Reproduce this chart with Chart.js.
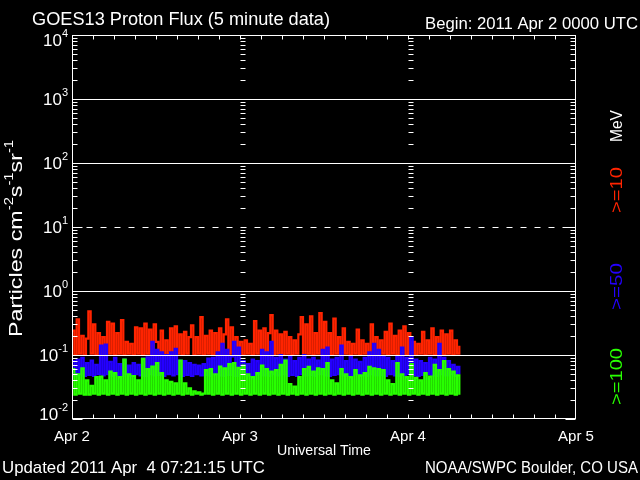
<!DOCTYPE html>
<html><head><meta charset="utf-8">
<script src="https://cdn.jsdelivr.net/npm/chart.js@4/dist/chart.umd.min.js"></script>
<style>html,body{margin:0;padding:0;background:#000;overflow:hidden}#wrap{width:640px;height:480px}</style>
</head><body><div id="wrap"><canvas id="c" width="640" height="480"></canvas></div>
<script>
// ---- data (GOES13 integral proton flux, 20-minute samples from 2011 Apr 2 00:00 UTC) ----
const SAMPLE_HOURS = 1 / 3;
const dayLabels = ['Apr 2', 'Apr 3', 'Apr 4', 'Apr 5'];
const dayHours = [0, 24, 48, 72];
const decadeExponents = [-2, -1, 0, 1, 2, 3, 4];
const solidGridExponents = [-1, 0, 2, 3];
const dashedGridExponents = [1];
const seriesLabels = ['>=10', '>=50', '>=100'];
const seriesColors = ['rgb(255,36,0)', 'rgb(36,0,255)', 'rgb(40,255,0)'];

const flux10 = [
0.24,0.10,0.36, 0.105,0.20,0.10, 0.18,0.48,0.105, 0.30,0.10,0.22, 0.105,0.19,0.10, 0.33,0.105,0.31, 0.10,0.22,0.105, 0.35,0.10,0.16, 0.105,0.15,0.10, 0.27,0.105,0.26,
0.10,0.31,0.105, 0.25,0.10,0.30, 0.16,0.105,0.24, 0.10,0.17,0.105, 0.26,0.10,0.28, 0.105,0.21,0.10, 0.23,0.105,0.19, 0.29,0.10,0.19, 0.105,0.39,0.10, 0.20,0.105,0.24,
0.10,0.22,0.105, 0.26,0.10,0.21, 0.36,0.105,0.27, 0.10,0.19,0.105, 0.16,0.10,0.17, 0.105,0.15,0.10, 0.34,0.105,0.24, 0.10,0.26,0.105, 0.22,0.42,0.10, 0.24,0.105,0.21,
0.10,0.23,0.105, 0.19,0.10,0.17, 0.105,0.21,0.39, 0.10,0.30,0.105, 0.40,0.10,0.22, 0.105,0.45,0.10, 0.33,0.105,0.22, 0.10,0.37,0.105, 0.19,0.10,0.26, 0.105,0.16,0.10,
0.15,0.105,0.25, 0.10,0.17,0.105, 0.15,0.10,0.30, 0.105,0.19,0.10, 0.17,0.105,0.23, 0.10,0.31,0.105, 0.20,0.10,0.24, 0.105,0.28,0.10, 0.22,0.105,0.16, 0.10,0.15,0.105,
0.23,0.10,0.17, 0.105,0.26,0.10, 0.19,0.105,0.24, 0.10,0.21,0.105, 0.24,0.10,0.17, 0.105,0.14
];
const flux50 = [
0.080,0.048,0.085, 0.050,0.090,0.047, 0.075,0.049,0.082, 0.047,0.070,0.050, 0.140,0.048,0.145, 0.050,0.078,0.047, 0.090,0.049,0.072, 0.047,0.085,0.050, 0.068,0.047,0.075, 0.050,0.070,0.048,
0.088,0.047,0.092, 0.050,0.160,0.048, 0.120,0.049,0.110, 0.047,0.100,0.050, 0.110,0.048,0.125, 0.050,0.082,0.047, 0.080,0.049,0.075, 0.047,0.070,0.050, 0.068,0.048,0.072, 0.049,0.088,0.047,
0.090,0.050,0.110, 0.048,0.150,0.047, 0.120,0.049,0.095, 0.160,0.047,0.130, 0.050,0.080,0.048, 0.072,0.047,0.085, 0.049,0.080,0.050, 0.120,0.048,0.110, 0.047,0.160,0.050, 0.090,0.048,0.100,
0.050,0.085,0.047, 0.095,0.049,0.080, 0.047,0.090,0.050, 0.100,0.048,0.085, 0.049,0.090,0.047, 0.082,0.050,0.120, 0.048,0.130,0.047, 0.085,0.049,0.090, 0.050,0.140,0.048, 0.080,0.047,0.095,
0.049,0.085,0.050, 0.078,0.048,0.090, 0.047,0.110,0.050, 0.150,0.048,0.120, 0.049,0.095,0.047, 0.090,0.050,0.080, 0.048,0.095,0.047, 0.130,0.049,0.090, 0.050,0.190,0.048, 0.085,0.047,0.080,
0.049,0.075,0.050, 0.090,0.048,0.085, 0.047,0.150,0.050, 0.090,0.048,0.080, 0.050,0.070,0.047, 0.065,0.050
];
const flux100 = [
0.060,0.024,0.050, 0.025,0.062,0.024, 0.040,0.024,0.033, 0.025,0.045,0.024, 0.046,0.025,0.040, 0.024,0.055,0.025, 0.052,0.024,0.045, 0.025,0.085,0.024, 0.050,0.025,0.047, 0.024,0.040,0.025,
0.087,0.024,0.060, 0.025,0.066,0.024, 0.075,0.025,0.052, 0.024,0.040,0.025, 0.038,0.024,0.036, 0.025,0.082,0.024, 0.036,0.025,0.030, 0.024,0.027,0.025, 0.026,0.024,0.025, 0.058,0.025,0.060,
0.024,0.050,0.025, 0.066,0.024,0.062, 0.025,0.072,0.024, 0.075,0.025,0.063, 0.024,0.068,0.025, 0.050,0.024,0.045, 0.025,0.052,0.024, 0.068,0.025,0.060, 0.024,0.055,0.025, 0.058,0.024,0.070,
0.025,0.082,0.024, 0.035,0.025,0.032, 0.024,0.045,0.025, 0.060,0.024,0.065, 0.025,0.055,0.024, 0.062,0.025,0.060, 0.024,0.075,0.025, 0.040,0.024,0.036, 0.025,0.060,0.024, 0.050,0.025,0.045,
0.024,0.058,0.025, 0.048,0.024,0.052, 0.025,0.065,0.024, 0.062,0.025,0.060, 0.024,0.058,0.025, 0.040,0.024,0.035, 0.025,0.075,0.024, 0.050,0.025,0.045, 0.024,0.072,0.025, 0.044,0.024,0.040,
0.025,0.052,0.024, 0.046,0.025,0.070, 0.024,0.058,0.025, 0.080,0.024,0.060, 0.025,0.055,0.024, 0.048,0.024
];

const FONT = '"Liberation Sans", "DejaVu Sans", sans-serif';
const toPoints = arr => arr.map((v, i) => ({ x: i * SAMPLE_HOURS, y: v }));

function txt(ctx, s, x, y, o) {
  ctx.save();
  ctx.font = (o.size || 15) + 'px ' + FONT;
  ctx.fillStyle = o.color || '#fff';
  ctx.textBaseline = o.baseline || 'alphabetic';
  ctx.translate(x, y);
  if (o.rot) ctx.rotate(o.rot);
  const w = ctx.measureText(s).width;
  const sx = o.width ? o.width / w : 1;
  ctx.scale(sx, 1);
  let x0 = 0;
  if (o.align === 'center') x0 = -w / 2; else if (o.align === 'right') x0 = -w;
  ctx.textAlign = 'left';
  ctx.fillText(s, x0, 0);
  ctx.restore();
}

const overlay = {
  id: 'overlay',
  beforeDraw(chart) {
    const c = chart.ctx; c.save(); c.fillStyle = '#000'; c.fillRect(0, 0, chart.width, chart.height); c.restore();
  },
  afterDatasetsDraw(chart) {
    const ctx = chart.ctx, xs = chart.scales.x, ys = chart.scales.y, a = chart.chartArea;
    const L = Math.round(a.left) + 0.5, R = Math.round(a.right) - 0.5, T = Math.round(a.top) + 0.5, B = Math.round(a.bottom) - 0.5;
    const line = (x1, y1, x2, y2) => { ctx.beginPath(); ctx.moveTo(x1, y1); ctx.lineTo(x2, y2); ctx.stroke(); };
    const py = v => Math.round(ys.getPixelForValue(v)) + 0.5;
    ctx.save();
    ctx.strokeStyle = '#fff'; ctx.lineWidth = 1;
    solidGridExponents.forEach(e => { const y = py(Math.pow(10, e)); line(L, y, R, y); });
    ctx.setLineDash([6, 8]);
    dashedGridExponents.forEach(e => { const y = py(Math.pow(10, e)); line(L, y, R, y); });
    ctx.setLineDash([]);
    ctx.strokeRect(L, T, R - L, B - T);
    const inner = dayHours.slice(1, -1).map(h => Math.round(xs.getPixelForValue(h)) + 0.5);
    for (let e = -2; e < 4; e++) {
      for (let m = 2; m <= 9; m++) {
        const y = py(m * Math.pow(10, e));
        line(L, y, L + 5, y); line(R - 5, y, R, y);
        inner.forEach(x => line(x, y, x + 5, y));
      }
    }
    decadeExponents.forEach(e => { const y = py(Math.pow(10, e)); line(L, y, L + 10, y); line(R - 10, y, R, y); });
    for (let h = 3; h < 72; h += 3) {
      const x = Math.round(xs.getPixelForValue(h)) + 0.5;
      line(x, T, x, T + 4); line(x, B - 4, x, B);
    }
    ctx.restore();
  },
  afterDraw(chart) {
    const ctx = chart.ctx, xs = chart.scales.x, ys = chart.scales.y;
    txt(ctx, 'GOES13 Proton Flux (5 minute data)', 32, 25, { size: 19, width: 298 });
    txt(ctx, 'Begin: 2011 Apr 2 0000 UTC', 425, 29, { size: 16, width: 213 });
    txt(ctx, 'Updated 2011 Apr  4 07:21:15 UTC', 2, 473, { size: 17, width: 263 });
    txt(ctx, 'NOAA/SWPC Boulder, CO USA', 425, 473, { size: 17, width: 213 });
    dayLabels.forEach((s, i) => txt(ctx, s, xs.getPixelForValue(dayHours[i]), 441, { size: 15, align: 'center', width: 36 }));
    txt(ctx, 'Universal Time', (chart.chartArea.left + chart.chartArea.right) / 2, 455, { size: 15, align: 'center', width: 94 });
    ctx.save();
    decadeExponents.forEach(e => {
      let y = ys.getPixelForValue(Math.pow(10, e));
      if (e === 4) y += 5; if (e === -2) y -= 5;
      ctx.font = '17px ' + FONT; const w10 = ctx.measureText('10').width;
      ctx.font = '11px ' + FONT; const ex = String(e); const we = ctx.measureText(ex).width;
      const x0 = 68 - w10 - we;
      ctx.fillStyle = '#fff'; ctx.textBaseline = 'middle'; ctx.textAlign = 'left';
      ctx.font = '17px ' + FONT; ctx.fillText('10', x0, y + 1);
      ctx.font = '11px ' + FONT; ctx.fillText(ex, x0 + w10, y - 6);
    });
    ctx.restore();
    const segs = [['Particles cm', 0], ['-2', 1], ['s', 0], ['-1', 1], ['sr', 0], ['-1', 1]];
    ctx.save();
    ctx.fillStyle = '#fff'; ctx.textBaseline = 'alphabetic'; ctx.textAlign = 'left';
    let W = 0; const ws = segs.map(([t, sup]) => { ctx.font = (sup ? 12 : 19) + 'px ' + FONT; const w = ctx.measureText(t).width; W += w; return w; });
    ctx.translate(22, 238.5); ctx.rotate(-Math.PI / 2); ctx.scale(197 / W, 1);
    let cx = -W / 2;
    segs.forEach(([t, sup], i) => { ctx.font = (sup ? 12 : 19) + 'px ' + FONT; ctx.fillText(t, cx, sup ? -9 : 0); cx += ws[i]; });
    ctx.restore();
    const rot = -Math.PI / 2;
    txt(ctx, 'MeV', 622, 142, { size: 17, rot, width: 32 });
    txt(ctx, seriesLabels[0], 622, 213, { size: 17, rot, width: 46, color: seriesColors[0] });
    txt(ctx, seriesLabels[1], 622, 310, { size: 17, rot, width: 47, color: seriesColors[1] });
    txt(ctx, seriesLabels[2], 622, 405, { size: 17, rot, width: 57, color: seriesColors[2] });
  }
};

new Chart(document.getElementById('c'), {
  type: 'line',
  data: {
    datasets: [
      { label: seriesLabels[0], data: toPoints(flux10), borderColor: seriesColors[0], order: 2 },
      { label: seriesLabels[1], data: toPoints(flux50), borderColor: seriesColors[1], order: 1 },
      { label: seriesLabels[2], data: toPoints(flux100), borderColor: seriesColors[2], order: 0 }
    ]
  },
  options: {
    responsive: false, animation: false, devicePixelRatio: 1,
    layout: { padding: { left: 72, right: 64, top: 35, bottom: 61 } },
    elements: { point: { radius: 0 }, line: { borderWidth: 2.2, tension: 0, stepped: true, borderJoinStyle: 'miter' } },
    scales: {
      x: { type: 'linear', min: 0, max: 72, display: false },
      y: { type: 'logarithmic', min: 0.01, max: 10000, display: false }
    },
    plugins: { legend: { display: false }, tooltip: { enabled: false } }
  },
  plugins: [overlay]
});
</script></body></html>
